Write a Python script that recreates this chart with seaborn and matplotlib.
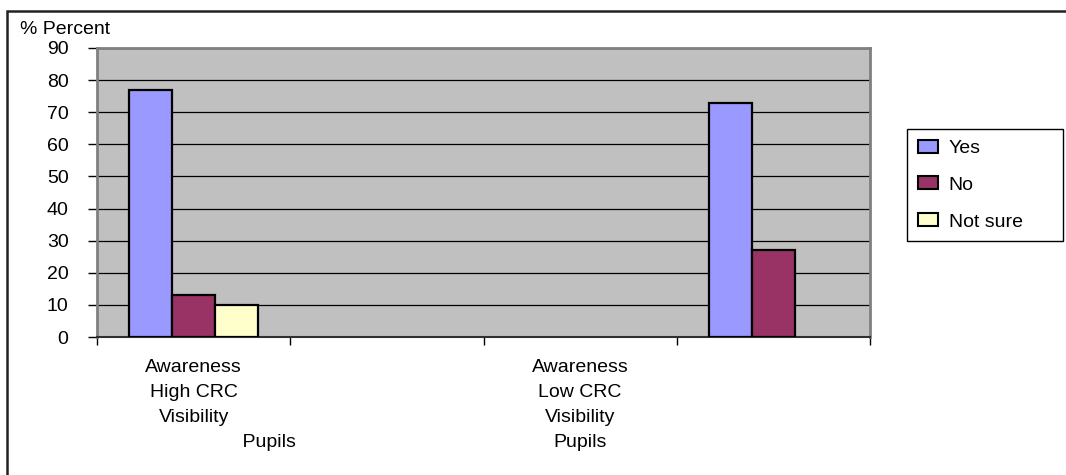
import matplotlib
matplotlib.use("Agg")
import matplotlib.pyplot as plt
import seaborn as sns
import pandas as pd
from matplotlib.patches import Rectangle

# Category slots along the x axis (two of them carry no bars)
groups = ["high_visibility", "spacer_1", "low_visibility", "spacer_2"]
group_labels = [
    "Awareness\nHigh CRC\nVisibility\n" + " " * 28 + "Pupils",
    "",
    "Awareness\nLow CRC\nVisibility\nPupils",
    "",
]

responses = ["Yes", "No", "Not sure"]
yes_pct = [77, None, None, 73]
no_pct = [13, None, None, 27]
not_sure_pct = [10, None, None, None]

y_ticks = [0, 10, 20, 30, 40, 50, 60, 70, 80, 90]

colors = {"Yes": "#9999FF", "No": "#993366", "Not sure": "#FFFFCC"}

rows = []
for resp, vals in zip(responses, [yes_pct, no_pct, not_sure_pct]):
    for g, v in zip(groups, vals):
        if v is not None:
            rows.append({"group": g, "response": resp, "percent": v})
df = pd.DataFrame(rows)

sns.set_style("white")
plt.rcParams["font.family"] = ["Liberation Sans", "DejaVu Sans"]
plt.rcParams["font.size"] = 14
plt.rcParams["text.color"] = "black"
plt.rcParams["xtick.color"] = "black"
plt.rcParams["ytick.color"] = "black"
plt.rcParams["xtick.labelcolor"] = "black"
plt.rcParams["ytick.labelcolor"] = "black"

FS = 14

fig = plt.figure(figsize=(10.66, 4.75), dpi=100)
ax = fig.add_axes([97 / 1066, 1 - 337 / 475, (870 - 97) / 1066, (337 - 48) / 475])
ax.set_facecolor("#C0C0C0")

sns.barplot(
    data=df, x="group", y="percent", hue="response",
    order=groups, hue_order=responses, palette=colors,
    width=0.665, saturation=1, edgecolor="black", linewidth=1.6,
    errorbar=None, ax=ax, zorder=3,
)

ax.set_xlim(-0.5, len(groups) - 0.5)
ax.set_ylim(0, 90)
ax.set_xlabel("")
ax.set_ylabel("")

# y axis: ticks every 10 with black gridlines
ax.set_yticks(y_ticks)
ax.set_yticklabels([str(t) for t in y_ticks])
ax.tick_params(axis="y", direction="out", length=6.5, width=1, color="black",
               pad=14, labelsize=FS, labelcolor="black", left=True)
ax.yaxis.grid(True, color="black", linewidth=0.9, zorder=1)
ax.set_axisbelow(True)

# x axis: marks at slot boundaries, labels at slot centres
ax.set_xticks([i - 0.5 for i in range(len(groups) + 1)])
ax.set_xticklabels([""] * (len(groups) + 1))
ax.set_xticks(range(len(groups)), minor=True)
ax.set_xticklabels(group_labels, minor=True, linespacing=1.62)
ax.tick_params(axis="x", which="major", direction="out", length=6, width=1,
               color="black", bottom=True)
ax.tick_params(axis="x", which="minor", length=0, pad=16, labelsize=FS,
               labelcolor="black")
ax.xaxis.grid(False)

for side in ["left", "right", "top"]:
    ax.spines[side].set_color("#808080")
    ax.spines[side].set_linewidth(2)
ax.spines["bottom"].set_color("#303030")
ax.spines["bottom"].set_linewidth(1.5)

fig.text(20 / 1066, 1 - 29 / 475, "% Percent", fontsize=FS, va="center", ha="left")

handles, labels = ax.get_legend_handles_labels()
leg_x0, leg_y1 = 907 / 1066, 1 - 129 / 475
leg_w, leg_h = (1063 - 907) / 1066, (237 - 129) / 475
leg = ax.legend(
    handles, labels, loc="upper left", mode="expand",
    bbox_to_anchor=(leg_x0, leg_y1 - leg_h, leg_w, leg_h),
    bbox_transform=fig.transFigure,
    borderaxespad=0, frameon=True, fancybox=False, shadow=False,
    edgecolor="black", framealpha=1, fontsize=FS,
    handlelength=1.05, handleheight=0.65, handletextpad=0.55,
    labelspacing=1.0, borderpad=0.55,
)
leg.get_frame().set_linewidth(1)
for p in leg.get_patches():
    p.set_edgecolor("black")
    p.set_linewidth(1.5)
for t in leg.get_texts():
    t.set_color("black")

# outer chart border
fig.patches.append(Rectangle((7 / 1066, -0.05), 1.2, 1.05 - 11 / 475,
                             transform=fig.transFigure, fill=False,
                             edgecolor="#222222", linewidth=1.8))

fig.savefig("out.png", dpi=100)
